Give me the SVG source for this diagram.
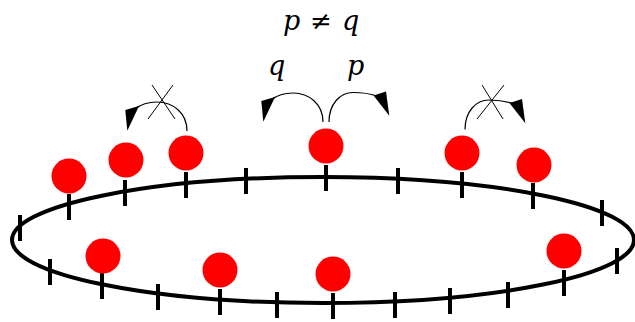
<svg xmlns="http://www.w3.org/2000/svg" xmlns:xlink="http://www.w3.org/1999/xlink" width="635" height="322" viewBox="0 0 635 322">
<style>
.ring{fill:none;stroke:#000;stroke-width:4}
.tick{stroke:#000;stroke-width:4;fill:none}
.ball{fill:#ff0000}
.arc{fill:none;stroke:#000;stroke-width:1.2}
.head{fill:#000;stroke:none}
.cross{stroke:#000;stroke-width:1;fill:none}
</style>
<defs>
<g id="hopLeft">
<path class="arc" d="M323,122 C323,104 309,93 293,93 C284,93 276,96 271,100"/>
<polygon class="head" points="261.3,101 275,97 263.3,121.8"/>
</g>
<g id="hopRight">
<path class="arc" d="M329,122 C329,104 340,92.5 353,92.5 C363,92.5 371,94 377,96"/>
<polygon class="head" points="373.5,95.5 386,91.5 389.3,115.8"/>
</g>
</defs>
<g id="ring">
<ellipse class="ring" cx="323" cy="240" rx="311" ry="63"/>
</g>
<g id="ticks">
<line class="tick" x1="20" y1="215" x2="20" y2="241"/>
<line class="tick" x1="69" y1="194" x2="69" y2="220"/>
<line class="tick" x1="125" y1="180" x2="125" y2="206"/>
<line class="tick" x1="186" y1="172" x2="186" y2="198"/>
<line class="tick" x1="246" y1="168" x2="246" y2="194"/>
<line class="tick" x1="326" y1="165" x2="326" y2="191"/>
<line class="tick" x1="398" y1="168" x2="398" y2="194"/>
<line class="tick" x1="462" y1="172" x2="462" y2="198"/>
<line class="tick" x1="533" y1="183" x2="533" y2="209"/>
<line class="tick" x1="602" y1="200" x2="602" y2="226"/>
<line class="tick" x1="50" y1="259" x2="50" y2="285"/>
<line class="tick" x1="102" y1="273" x2="102" y2="299"/>
<line class="tick" x1="158" y1="284" x2="158" y2="310"/>
<line class="tick" x1="220" y1="289" x2="220" y2="315"/>
<line class="tick" x1="277" y1="292" x2="277" y2="318"/>
<line class="tick" x1="333" y1="293" x2="333" y2="319"/>
<line class="tick" x1="395" y1="292" x2="395" y2="318"/>
<line class="tick" x1="450" y1="288" x2="450" y2="314"/>
<line class="tick" x1="508" y1="282" x2="508" y2="308"/>
<line class="tick" x1="564" y1="270" x2="564" y2="296"/>
<line class="tick" x1="617" y1="248" x2="617" y2="274"/>
</g>
<g id="ball1"><circle class="ball" cx="69" cy="176" r="17.5"/></g>
<g id="ball2"><circle class="ball" cx="126" cy="160" r="17.5"/></g>
<g id="ball3"><circle class="ball" cx="186" cy="153" r="17.5"/></g>
<g id="ball4"><circle class="ball" cx="326" cy="146" r="17.5"/></g>
<g id="ball5"><circle class="ball" cx="462" cy="153" r="17.5"/></g>
<g id="ball6"><circle class="ball" cx="534" cy="165" r="17.5"/></g>
<g id="ball7"><circle class="ball" cx="103" cy="256" r="17.5"/></g>
<g id="ball8"><circle class="ball" cx="220" cy="270" r="17.5"/></g>
<g id="ball9"><circle class="ball" cx="333" cy="274" r="17.5"/></g>
<g id="ball10"><circle class="ball" cx="564" cy="251" r="17.5"/></g>
<g id="connectors">
<use xlink:href="#hopLeft"/>
<use xlink:href="#hopRight"/>
<use xlink:href="#hopLeft" transform="translate(-136,9)"/>
<use xlink:href="#hopRight" transform="translate(136,7.5)"/>
<line class="cross" x1="152" y1="85" x2="175" y2="119"/>
<line class="cross" x1="173" y1="85" x2="148" y2="119"/>
<line class="cross" x1="482" y1="85" x2="503" y2="119"/>
<line class="cross" x1="504" y1="85" x2="477" y2="119"/>
</g>
<g id="labels" font-family="'DejaVu Serif', serif" font-size="27" fill="#000">
<text x="283" y="30" font-style="italic">p</text>
<text x="321" y="30" text-anchor="middle" font-size="26">≠</text>
<text x="342" y="30" font-style="italic">q</text>
<text x="268" y="75" font-style="italic">q</text>
<text x="347" y="75" font-style="italic">p</text>
</g>
</svg>
